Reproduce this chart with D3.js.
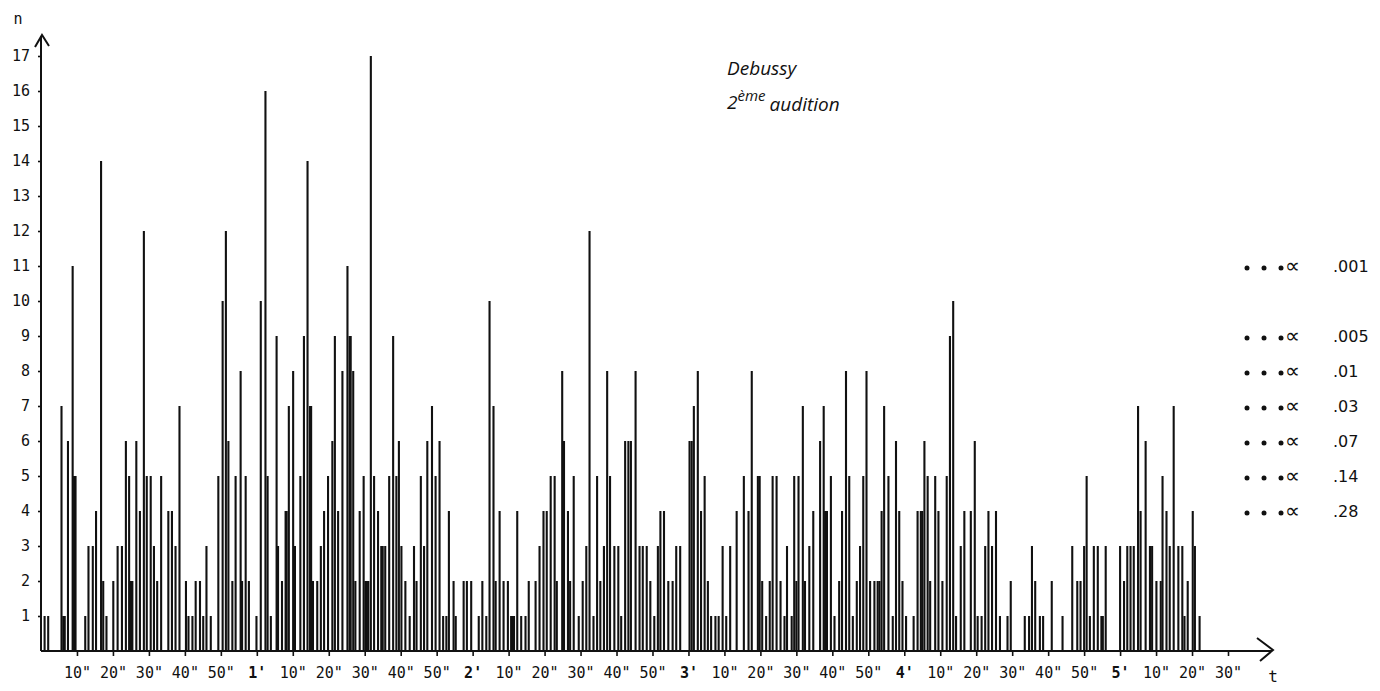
<!DOCTYPE html>
<html>
<head>
<meta charset="utf-8">
<script src="https://cdn.jsdelivr.net/npm/d3@7"></script>
<style>
  body { margin: 0; background: #fff; }
  svg { display: block; }
  .axis text { font-family: "DejaVu Sans Mono", monospace; font-size: 15px; fill: #111; }
  .axis line { stroke: #111; stroke-width: 1.6; }
</style>
</head>
<body>
<svg id="chart" width="1380" height="691"></svg>
<script>
// time of each stroke (seconds) and number of listeners (n)
const times = [
  1, 2, 5.7, 6.2, 6.6, 7.5, 8.8, 9.2, 9.6, 12.3, 13.2, 14.4, 15.3, 16.7, 17.3, 18.2,
  20.1, 21.3, 22.5, 23.6, 24.5, 25.0, 25.4, 26.5, 27.5, 28.6, 29.4, 30.5, 31.4, 32.3, 33.4,
  35.4, 36.4, 37.4, 38.5, 40.3, 41, 42.1, 43, 44.2, 45.1, 46, 47.2, 49.3, 50.5, 51.4, 52.1,
  53.2, 54.1, 55.5, 55.9, 56.9, 57.8,
  59.9, 61.1, 62.4, 63, 63.9, 65.5, 65.9, 67, 68.0, 68.3, 68.9, 70.1, 70.6, 72.1, 73.1, 74.1,
  74.8, 75.1, 75.6, 76.8, 77.8, 78.7, 79.8, 81, 81.7, 82.6, 83.8, 85.2, 85.8, 86.1, 86.8, 87.4,
  88.6, 89.7, 90.2, 90.6, 91.0, 91.7, 92.6, 93.7, 94.6, 95.0, 95.7, 96.8, 97.9, 98.8, 99.5,
  100.2, 101.3, 102.5, 103.7, 104.4, 105.6, 106.5, 107.4, 108.7, 109.7, 110.8, 111.8, 112.7,
  113.4, 114.7,
  115.3, 117.5, 118.4, 119.6, 121.7, 122.7, 123.8, 124.7, 125.8, 126.4, 127.5, 128.6, 129.8,
  130.7, 131.1, 131.5, 132.4, 133.5, 134.7, 135.6, 137.5, 138.6, 139.7, 140.6, 141.7, 142.8,
  143.4, 144.9, 145.4, 146.5, 147.1, 148.1, 149.5, 150.6, 151.6, 152.5, 153.6, 154.6, 155.5,
  156.5, 157.4, 158.2, 159.4, 160.5, 161.3, 162.4, 163.3, 164, 165.3, 166.4, 167.3, 168.4,
  169.4, 170.5, 171.5,
  172.2, 173.2, 174.4, 175.6, 176.6, 177.7, 180.3, 180.9, 181.5, 182.6, 183.5, 184.5, 185.4,
  186.3, 187.5, 188.4, 189.5, 190.5, 191.6, 193.4, 195.4, 196.7, 197.6, 199.3, 199.8, 200.5,
  201.6, 202.6, 203.4, 204.5, 205.6, 206.7, 207.4, 208.7, 209.4, 210.0, 210.6, 211.8, 212.4,
  213.6, 214.7, 216.6, 217.6, 218.0, 218.5, 219.6, 220.6, 221.9, 222.7, 223.8, 224.7, 225.7,
  226.8, 227.7, 228.6,
  229.5, 230.5, 231.7, 232.6, 233.1, 233.7, 234.4, 235.6, 236.8, 237.7, 238.6, 239.5, 240.5,
  242.6, 243.7, 244.6, 245.0, 245.6, 246.5, 247.2, 248.6, 249.5, 250.6, 251.8, 252.7, 253.6,
  254.4, 255.7, 256.7, 258.5, 259.6, 260.4, 261.5, 262.5, 263.4, 264.4, 265.5, 266.6, 268.7,
  269.6, 273.5, 274.7, 275.5, 276.4, 277.7, 278.6, 281, 284,
  286.7, 288.1, 289, 290, 290.7, 291.6, 292.7, 293.8, 294.8, 295.2, 296, 300, 301.1, 302,
  302.9, 303.8, 305, 305.7, 307.1, 308.3, 308.9, 310.1, 311.3, 311.8, 312.9, 313.8, 314.9,
  316.2, 317.3, 317.9, 318.8, 320.2, 320.8, 322.1
];
const counts = [
  1, 1, 7, 1, 1, 6, 11, 5, 5, 1, 3, 3, 4, 14, 2, 1,
  2, 3, 3, 6, 5, 2, 2, 6, 4, 12, 5, 5, 3, 2, 5,
  4, 4, 3, 7, 2, 1, 1, 2, 2, 1, 3, 1, 5, 10, 12, 6,
  2, 5, 8, 2, 5, 2,
  1, 10, 16, 5, 1, 9, 3, 2, 4, 4, 7, 8, 3, 5, 9, 14,
  7, 7, 2, 2, 3, 4, 5, 6, 9, 4, 8, 11, 9, 9, 8, 2,
  4, 5, 2, 2, 2, 17, 5, 4, 3, 3, 3, 5, 9, 5, 6,
  3, 2, 1, 3, 2, 5, 3, 6, 7, 5, 6, 1, 1,
  4, 2,
  1, 2, 2, 2, 1, 2, 1, 10, 7, 2, 4, 2, 2,
  1, 1, 1, 4, 1, 1, 2, 2, 3, 4, 4, 5, 5,
  2, 8, 6, 4, 2, 5, 1, 2, 3, 12, 1, 5, 2,
  3, 8, 5, 3, 3, 1, 6, 6, 6, 8, 3, 3, 3,
  2, 1, 3,
  4, 4, 2, 2, 3, 3, 6, 6, 7, 8, 4, 5, 2,
  1, 1, 1, 3, 1, 3, 4, 5, 4, 8, 5, 5, 2,
  1, 2, 5, 5, 2, 1, 3, 1, 5, 2, 5, 7, 2,
  3, 4, 6, 7, 4, 4, 5, 1, 2, 4, 8, 5, 1,
  2, 3, 5,
  8, 2, 2, 2, 2, 4, 7, 5, 1, 6, 4, 2, 1,
  1, 4, 4, 4, 6, 5, 2, 5, 4, 2, 5, 9, 10,
  1, 3, 4, 4, 6, 1, 1, 3, 4, 3, 4, 1, 1,
  2, 1, 1, 3, 2, 1, 1, 2, 1,
  3, 2, 2, 3, 5, 1, 3, 3, 1, 1, 3, 3, 2, 3,
  3, 3, 7, 4, 6, 3, 3, 2, 2, 5, 4, 3, 7,
  3, 3, 1, 2, 4, 3, 1
];

const nTicks = d3.range(1, 18);
const timeLabels = [
  '10"', '20"', '30"', '40"', '50"', "1'",
  '10"', '20"', '30"', '40"', '50"', "2'",
  '10"', '20"', '30"', '40"', '50"', "3'",
  '10"', '20"', '30"', '40"', '50"', "4'",
  '10"', '20"', '30"', '40"', '50"', "5'",
  '10"', '20"', '30"'
];

// significance levels shown on the right
const alphaLevels = [11, 9, 8, 7, 6, 5, 4];
const alphaLabels = ['.001', '.005', '.01', '.03', '.07', '.14', '.28'];

const svg = d3.select('#chart');
const ink = '#111';

const x = d3.scaleLinear().domain([0, 330]).range([41, 1228]);
const y = d3.scaleLinear().domain([0, 17]).range([651, 56]);

// strokes
svg.append('g')
  .selectAll('line')
  .data(times)
  .enter().append('line')
  .attr('x1', d => x(d))
  .attr('x2', d => x(d))
  .attr('y1', y(0))
  .attr('y2', (d, i) => y(counts[i]))
  .style('stroke', ink)
  .style('stroke-width', 2.1);

// y axis
const yAxis = svg.append('g')
  .attr('class', 'axis')
  .attr('transform', 'translate(' + x(0) + ',0)')
  .call(d3.axisLeft(y).tickValues(nTicks).tickSize(3).tickPadding(8));
yAxis.select('.domain').remove();

// x axis
const xAxis = svg.append('g')
  .attr('class', 'axis')
  .attr('transform', 'translate(0,' + y(0) + ')')
  .call(d3.axisBottom(x)
    .tickValues(d3.range(10, 331, 10))
    .tickFormat((d, i) => timeLabels[i])
    .tickSize(5)
    .tickPadding(11));
xAxis.select('.domain').remove();
xAxis.selectAll('text')
  .style('font-weight', d => d % 60 === 0 ? 'bold' : 'normal');

// axis lines with arrows
svg.append('line')
  .attr('x1', x(0)).attr('x2', x(0))
  .attr('y1', y(0)).attr('y2', 36)
  .style('stroke', ink).style('stroke-width', 2);
svg.append('path')
  .attr('d', 'M' + (x(0) - 6) + ',47 L' + (x(0) + 1) + ',35 L' + (x(0) + 8) + ',46')
  .style('fill', 'none').style('stroke', ink).style('stroke-width', 2);

svg.append('line')
  .attr('x1', x(0)).attr('x2', 1272)
  .attr('y1', y(0)).attr('y2', y(0))
  .style('stroke', ink).style('stroke-width', 2);
svg.append('path')
  .attr('d', 'M1257,638 L1273,650 L1260,661')
  .style('fill', 'none').style('stroke', ink).style('stroke-width', 2);

// axis names
svg.append('text')
  .attr('x', 18).attr('y', 24)
  .style('font-family', '"DejaVu Sans Mono", monospace')
  .style('font-size', '15px').style('fill', ink)
  .attr('text-anchor', 'middle')
  .text('n');
svg.append('text')
  .attr('x', 1273).attr('y', 682)
  .style('font-family', '"DejaVu Sans Mono", monospace')
  .style('font-size', '16px').style('fill', ink)
  .attr('text-anchor', 'middle')
  .text('t');

// title
const title = svg.append('g')
  .style('font-family', '"Open Sans", Lato, sans-serif')
  .style('font-style', 'italic')
  .style('fill', ink);
title.append('text')
  .attr('x', 727).attr('y', 75)
  .style('font-size', '19px')
  .text('Debussy');
const t2 = title.append('text')
  .attr('x', 727).attr('y', 109)
  .style('font-size', '19px');
t2.append('tspan').text('2');
t2.append('tspan').attr('dy', -8).style('font-size', '15px').text('ème');
t2.append('tspan').attr('dy', 10).attr('dx', 4).text('audition');

// alpha legend
const legend = svg.append('g')
  .selectAll('g')
  .data(alphaLevels)
  .enter().append('g')
  .attr('transform', d => 'translate(0,' + y(d) + ')');

legend.selectAll('circle')
  .data([1247, 1264, 1281])
  .enter().append('circle')
  .attr('cx', d => d)
  .attr('cy', 2)
  .attr('r', 2.5)
  .style('fill', ink);

legend.append('text')
  .attr('x', 1285).attr('y', 0)
  .attr('dy', '0.35em')
  .style('font-family', '"DejaVu Sans", sans-serif')
  .style('font-size', '21px').style('fill', ink)
  .text('∝');

legend.append('text')
  .attr('x', 1333).attr('y', 0)
  .attr('dy', '0.35em')
  .style('font-family', '"DejaVu Sans", sans-serif')
  .style('font-size', '16px').style('fill', ink)
  .text((d, i) => alphaLabels[i]);
</script>
</body>
</html>
